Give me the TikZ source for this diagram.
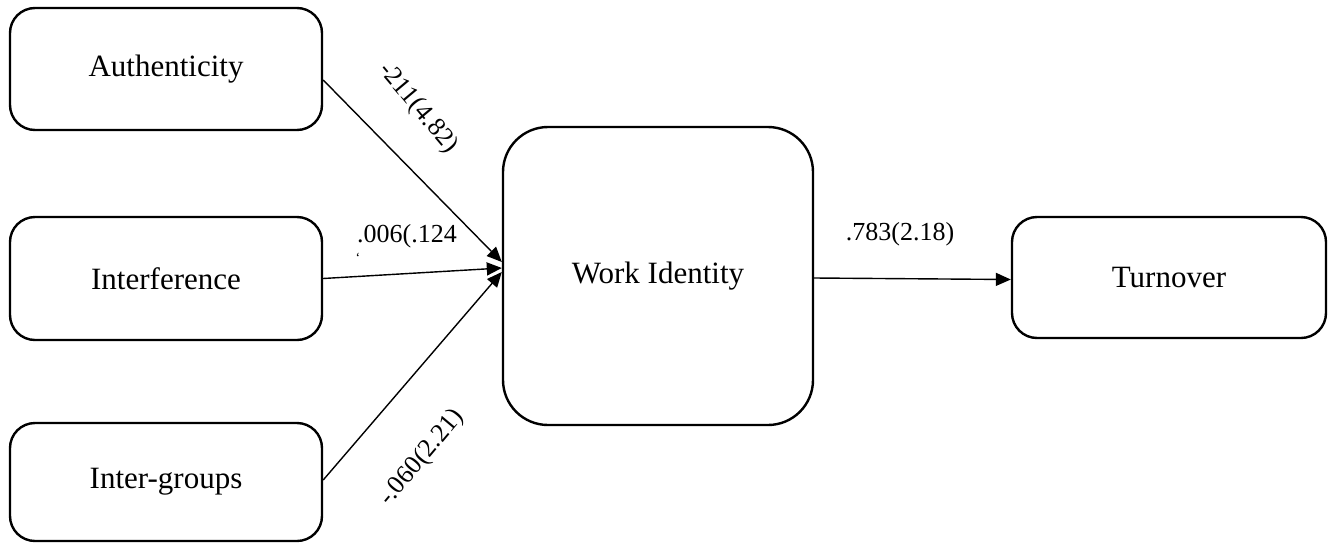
\documentclass[tikz,border=0pt]{standalone}
\usepackage{fontspec}
\setmainfont{Liberation Serif}
\usetikzlibrary{arrows.meta}
\begin{document}
\begin{tikzpicture}[x=1pt,y=-1pt,
  box/.style={draw,line width=2.4pt,rounded corners=25pt,font=\fontsize{31}{36}\selectfont,inner sep=0pt},
  conn/.style={line width=1.4pt,-{Triangle[length=15pt,width=13pt]}},
  lab/.style={font=\fontsize{26}{30}\selectfont,inner sep=0pt}]
\useasboundingbox (0,0) rectangle (1332,544);
\node[box,minimum width=312pt,minimum height=122pt] (A) at (166,69) {Authenticity};
\node[box,minimum width=312pt,minimum height=123pt] (I) at (166,278.5) {Interference};
\node[box,minimum width=312pt,minimum height=118pt] (G) at (166,482) {Inter-groups};
\node[box,rounded corners=45pt,minimum width=310pt,minimum height=298pt] (W) at (658,276) {Work Identity};
\node[box,minimum width=314pt,minimum height=121pt] (T) at (1169,277.5) {Turnover};
\draw[conn] ([yshift=-11pt]A.east) -- ([yshift=14pt]W.west);
\draw[conn] (I.east) -- ([yshift=8pt]W.west);
\draw[conn] ([yshift=2pt]G.east) -- ([yshift=4pt]W.west);
\draw[conn] ([yshift=-2pt]W.east) -- ([yshift=-2pt]T.west);
\node[lab,rotate=-50] (la) at (418,108) {-211(4.82)};
\node[lab] (li) at (407,236) {.006(.124};
\node[lab,font=\fontsize{14}{16}\selectfont] (lt) at (358,258) {`};
\node[lab,rotate=50] (lg) at (422,458) {-.060(2.21)};
\node[lab] (lw) at (900,234) {.783(2.18)};
\end{tikzpicture}
\end{document}
